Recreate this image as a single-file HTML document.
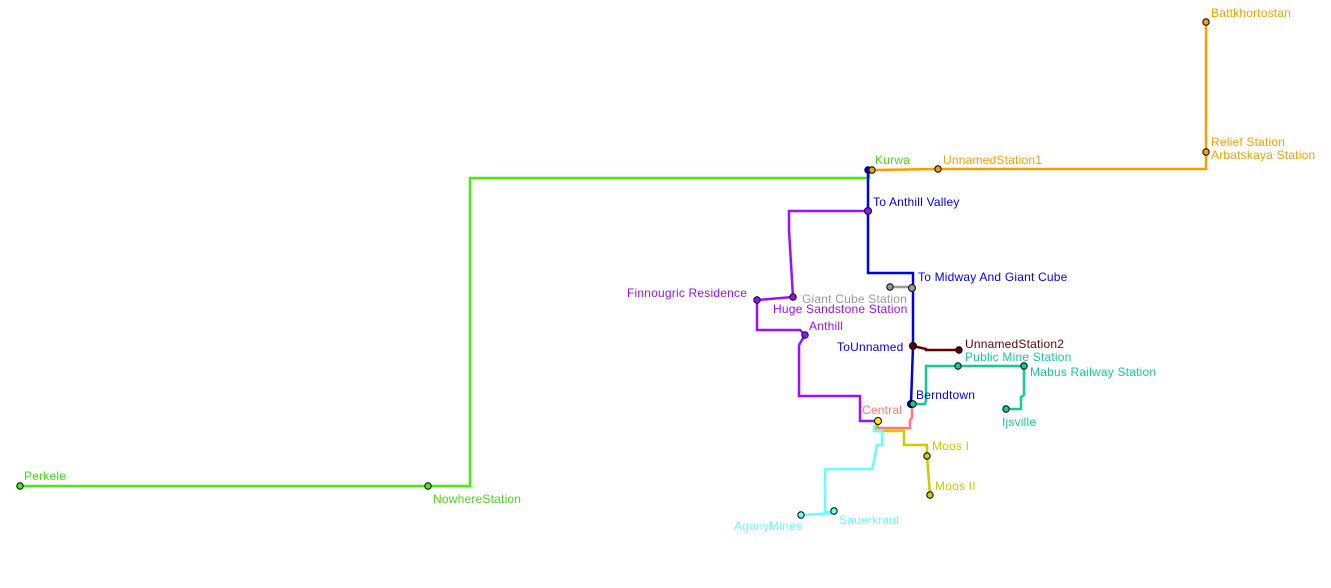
<!DOCTYPE html>
<html><head><style>html,body{margin:0;padding:0;background:#fff;width:1331px;height:588px;overflow:hidden}
text{font-family:"Liberation Sans",sans-serif;font-size:12px;letter-spacing:0.2px}</style></head><body>
<svg width="1331" height="588" xmlns="http://www.w3.org/2000/svg">
<g fill="none" stroke-width="2.5" stroke-linejoin="miter">
<polyline stroke="#44ee11" points="20,486 470,486 470,178 869,178 869,170"/>
<polyline stroke="#f5a000" points="872,170 938,169 1206,169 1206,22"/>
<polyline stroke="#9911ff" points="868,211 789,211 789,230 793,297 757,300 757,330 800,330 805,335 799,345 799,396 860,396 860,421 878,421"/>
<polyline stroke="#999" points="890,287 912,287"/>
<polyline stroke="#0000ee" points="868,170 868,273 913,273 913,346 911,404"/>
<polyline stroke="#660000" points="913,346 926,349 926,350 959,350"/>
<polyline stroke="#11cc99" points="913,404 925,404 926,400 926,366 1024,366 1024,395 1021,397 1021,409 1006,409"/>
<polyline stroke="#ff7777" points="912,405 912,418 910,420 910,428 878,428 877,420"/>
<polyline stroke="#cccc00" points="876,421 876,431 904,431 904,445 927,445 927,456 930,495"/>
<polyline stroke="#66ffff" points="874,425 874,431 882,431 882,445 877,445 875,456 872,469 825,469 825,512 835,512"/>
<polyline stroke="#66ffff" points="801,515 835,513"/>
</g>
<g stroke="#000" stroke-width="1">
<circle cx="20" cy="486" r="3.2" fill="#44ee11"/><circle cx="428" cy="486" r="3.2" fill="#44ee11"/>
<circle cx="868" cy="170" r="3.2" fill="#0000ee"/><circle cx="872" cy="170" r="3.2" fill="#f5a000"/>
<circle cx="938" cy="169" r="3.2" fill="#f5a000"/><circle cx="1206" cy="152" r="3.2" fill="#f5a000"/><circle cx="1206" cy="22" r="3.2" fill="#f5a000"/>
<circle cx="868" cy="211" r="3.5" fill="#9911ff"/>
<circle cx="890" cy="287" r="3.2" fill="#999"/><circle cx="912" cy="288" r="3.5" fill="#999"/>
<circle cx="793" cy="297" r="3.2" fill="#9911ff"/><circle cx="757" cy="300" r="3.2" fill="#9911ff"/><circle cx="805" cy="335" r="3.2" fill="#9911ff"/>
<circle cx="913" cy="346" r="3.5" fill="#660000"/><circle cx="959" cy="350" r="3.2" fill="#660000"/>
<circle cx="958" cy="366" r="3.2" fill="#11cc99"/><circle cx="1024" cy="366" r="3.2" fill="#11cc99"/><circle cx="1006" cy="409" r="3.2" fill="#11cc99"/>
<circle cx="911" cy="404" r="3.5" fill="#0000ee"/><circle cx="913" cy="404" r="3.2" fill="#11cc99"/>
<circle cx="878" cy="421" r="3.5" fill="#ffee00"/>
<circle cx="927" cy="456" r="3.2" fill="#cccc00"/><circle cx="930" cy="495" r="3.2" fill="#cccc00"/>
<circle cx="801" cy="515" r="3.2" fill="#66ffff"/><circle cx="834" cy="511" r="3.2" fill="#66ffff"/>
</g>
<text x="24" y="480" fill="#44dd11">Perkele</text>
<text x="433" y="503" fill="#44dd11">NowhereStation</text>
<text x="875" y="164" fill="#44dd11">Kurwa</text>
<text x="943" y="164" fill="#f5a000">UnnamedStation1</text>
<text x="1211" y="17" fill="#f5a000">Battkhortostan</text>
<text x="1211" y="146" fill="#f5a000">Relief Station</text>
<text x="1211" y="159" fill="#f5a000">Arbatskaya Station</text>
<text x="873" y="206" fill="#0000ee">To Anthill Valley</text>
<text x="918" y="281" fill="#0000ee">To Midway And Giant Cube</text>
<text x="802" y="303" fill="#999">Giant Cube Station</text>
<text x="773" y="313" fill="#9911ff">Huge Sandstone Station</text>
<text x="627" y="297" fill="#9911ff">Finnougric Residence</text>
<text x="809" y="330" fill="#9911ff">Anthill</text>
<text x="837" y="351" fill="#0000ee">ToUnnamed</text>
<text x="965" y="348" fill="#660000">UnnamedStation2</text>
<text x="965" y="361" fill="#11cc99">Public Mine Station</text>
<text x="1030" y="376" fill="#11cc99">Mabus Railway Station</text>
<text x="916" y="399" fill="#0000ee">Berndtown</text>
<text x="1002" y="426" fill="#11cc99">Ijsville</text>
<text x="862" y="414" fill="#ff7777">Central</text>
<text x="932" y="450" fill="#cccc00">Moos I</text>
<text x="935" y="490" fill="#cccc00">Moos II</text>
<text x="734" y="530" fill="#66ffff">AgonyMines</text>
<text x="839" y="524" fill="#66ffff">Sauerkraut</text>
</svg>
</body></html>
